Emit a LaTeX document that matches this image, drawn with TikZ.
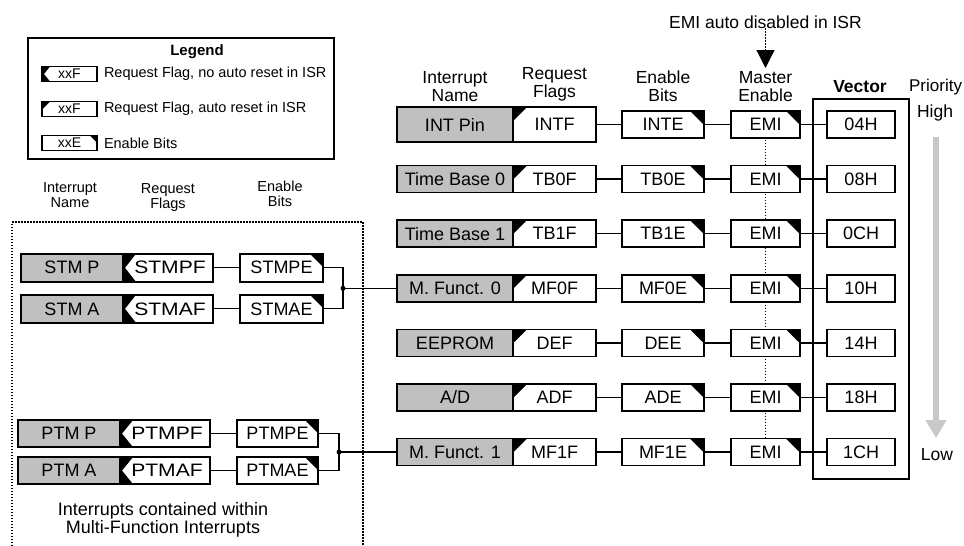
\documentclass[tikz,border=0pt]{standalone}
\usepackage{fontspec}
\usepackage{graphicx}
\setmainfont{Liberation Sans}
\usetikzlibrary{arrows.meta}
\definecolor{boxgray}{RGB}{192,192,192}
\definecolor{arrowgray}{RGB}{200,200,200}
\newcommand{\widetxt}[1]{\scalebox{1.17}[1]{#1}}
\begin{document}
\begin{tikzpicture}[x=1pt,y=-1pt,line width=1.5pt,
  every node/.style={inner sep=0pt,outer sep=0pt},
  lbl/.style={font=\fontsize{18}{18}\selectfont},
  box/.style={draw,fill=white,minimum height=27pt,lbl},
  namebox/.style={box,fill=boxgray,minimum width=116pt},
  flagA/.style={box,minimum width=83pt,path picture={\fill[black] (path picture bounding box.north west) -- ++(#1,0pt) -- ++(-#1,-#1) -- cycle;}},
  flagB/.style={box,minimum width=90pt,path picture={\fill[black] (path picture bounding box.north west) -- ++(#1,0pt) -- ([xshift=2pt]path picture bounding box.west) -- ([xshift=#1]path picture bounding box.south west) -- (path picture bounding box.south west) -- cycle;}},
  enbox/.style={box,minimum width=82pt,path picture={\fill[black] (path picture bounding box.north east) -- ++(-#1,0pt) -- ++(#1,-#1) -- cycle;}},
  emibox/.style={enbox=14pt,minimum width=69pt},
  vecbox/.style={box,minimum width=68pt},
  hdr/.style={align=center,font=\fontsize{17.5}{18}\selectfont},
  shdr/.style={align=center,font=\fontsize{14.5}{15}\selectfont},
  dotline/.style={line width=1.2pt,dash pattern=on 1.5pt off 1.5pt},
  conn/.style={line width=1.3pt}
]
\useasboundingbox (0,0) rectangle (964,546);

% ---------- Legend ----------
\draw[line width=1.3pt] (28,38) rectangle (334,159);
\node[font=\bfseries\fontsize{15}{15}\selectfont] (legt) at (197,52) {Legend};
\node[flagB=8pt,line width=1.3pt,minimum width=55pt,minimum height=15pt,font=\fontsize{14}{14}\selectfont] (lg1) at (69.5,74) {xxF};
\node[flagA=8pt,line width=1.3pt,minimum width=55pt,minimum height=15pt,font=\fontsize{14}{14}\selectfont] (lg2) at (69.5,109) {xxF};
\node[enbox=7pt,line width=1.3pt,minimum width=55pt,minimum height=15pt,font=\fontsize{14}{14}\selectfont] (lg3) at (69.5,143) {xxE};
\node[anchor=west,font=\fontsize{14.5}{15}\selectfont] (lt1) at (104,74) {Request Flag, no auto reset in ISR};
\node[anchor=west,font=\fontsize{14.5}{15}\selectfont] (lt2) at (104,109) {Request Flag, auto reset in ISR};
\node[anchor=west,font=\fontsize{14.5}{15}\selectfont] (lt3) at (104,143) {Enable Bits};

% ---------- Left (multi-function) ----------
\node[shdr] (lh1) at (70,195) {Interrupt\\Name};
\node[shdr] (lh2) at (168,198) {Request\\Flags};
\node[shdr] (lh3) at (280,194) {Enable\\Bits};
\draw[dotline] (12,546) -- (12,222) -- (363,222) -- (363,546);

\node[namebox,minimum width=102pt,minimum height=28pt] (stmp) at (72,267.8) {STM P};
\node[flagB=13pt,minimum height=28pt] (stmpf) at (168,267.8) {\hspace*{4pt}\widetxt{STMPF}};
\node[enbox=13pt,minimum width=83pt,minimum height=28pt] (stmpe) at (281.5,267.8) {STMPE};
\node[namebox,minimum width=102pt,minimum height=28pt] (stma) at (72,308.8) {STM A};
\node[flagB=13pt,minimum height=28pt] (stmaf) at (168,308.8) {\hspace*{4pt}\widetxt{STMAF}};
\node[enbox=13pt,minimum width=83pt,minimum height=28pt] (stmae) at (281.5,308.8) {STMAE};
\coordinate (j1) at (343,288.3);

\node[namebox,minimum width=102pt] (ptmp) at (69,433.6) {PTM P};
\node[flagB=13pt] (ptmpf) at (165,433.6) {\hspace*{4pt}\widetxt{PTMPF}};
\node[enbox=13pt,minimum width=81pt] (ptmpe) at (277.5,433.6) {PTMPE};
\node[namebox,minimum width=102pt] (ptma) at (69,470.6) {PTM A};
\node[flagB=13pt] (ptmaf) at (165,470.6) {\hspace*{4pt}\widetxt{PTMAF}};
\node[enbox=13pt,minimum width=81pt] (ptmae) at (277.5,470.6) {PTMAE};
\coordinate (j2) at (339,452.1);

\node[align=center,font=\fontsize{18}{18}\selectfont] (mfnote) at (163,520) {Interrupts contained within\\Multi-Function Interrupts};

% ---------- Main headers ----------
\node[hdr] (h1) at (455,87) {Interrupt\\Name};
\node[hdr] (h2) at (554.5,84) {Request\\Flags};
\node[hdr] (h3) at (663,86.5) {Enable\\Bits};
\node[hdr] (h4) at (765.5,86.5) {Master\\Enable};
\node[font=\bfseries\fontsize{17.5}{18}\selectfont] (h5) at (860,87) {Vector};
\node[font=\fontsize{17}{18}\selectfont,anchor=east] (h6) at (962,87) {Priority};
\node[hdr] (hi) at (935,113) {High};
\node[hdr] (lo) at (937,455) {Low};
\node[hdr] (emitxt) at (765.5,22) {EMI auto disabled in ISR};
\coordinate (emitip) at (765.5,68);

% vector frame
\draw (813,99) rectangle (909,479);

% EMI dotted spine (behind boxes)
\draw[dotline] (765.5,124.5) -- (765.5,452.1);

% ---------- Main rows ----------
\node[namebox,minimum height=35pt] (n1) at (455,124.5) {INT Pin};
\node[flagA=14pt,minimum height=35pt] (f1) at (554.5,124.5) {INTF};
\node[enbox=14pt] (e1) at (663,124.5) {INTE};
\node[emibox] (m1) at (765.5,124.5) {EMI};
\node[vecbox] (v1) at (861,124.5) {04H};

\node[namebox] (n2) at (455,179.1) {Time Base 0};
\node[flagA=14pt] (f2) at (554.5,179.1) {TB0F};
\node[enbox=14pt] (e2) at (663,179.1) {TB0E};
\node[emibox] (m2) at (765.5,179.1) {EMI};
\node[vecbox] (v2) at (861,179.1) {08H};

\node[namebox] (n3) at (455,233.7) {Time Base 1};
\node[flagA=14pt] (f3) at (554.5,233.7) {TB1F};
\node[enbox=14pt] (e3) at (663,233.7) {TB1E};
\node[emibox] (m3) at (765.5,233.7) {EMI};
\node[vecbox] (v3) at (861,233.7) {0CH};

\node[namebox] (n4) at (455,288.3) {M. Funct. 0};
\node[flagA=14pt] (f4) at (554.5,288.3) {MF0F};
\node[enbox=14pt] (e4) at (663,288.3) {MF0E};
\node[emibox] (m4) at (765.5,288.3) {EMI};
\node[vecbox] (v4) at (861,288.3) {10H};

\node[namebox] (n5) at (455,342.9) {EEPROM};
\node[flagA=14pt] (f5) at (554.5,342.9) {DEF};
\node[enbox=14pt] (e5) at (663,342.9) {DEE};
\node[emibox] (m5) at (765.5,342.9) {EMI};
\node[vecbox] (v5) at (861,342.9) {14H};

\node[namebox] (n6) at (455,397.5) {A/D};
\node[flagA=14pt] (f6) at (554.5,397.5) {ADF};
\node[enbox=14pt] (e6) at (663,397.5) {ADE};
\node[emibox] (m6) at (765.5,397.5) {EMI};
\node[vecbox] (v6) at (861,397.5) {18H};

\node[namebox] (n7) at (455,452.1) {M. Funct. 1};
\node[flagA=14pt] (f7) at (554.5,452.1) {MF1F};
\node[enbox=14pt] (e7) at (663,452.1) {MF1E};
\node[emibox] (m7) at (765.5,452.1) {EMI};
\node[vecbox] (v7) at (861,452.1) {1CH};

\foreach \i in {1,...,7}{
  \draw[conn] (f\i) -- (e\i);
  \draw[conn] (e\i) -- (m\i);
  \draw[conn] (m\i) -- (v\i);
}

% ---------- Left connectors ----------
\draw[conn] (stmpf) -- (stmpe);
\draw[conn] (stmaf) -- (stmae);
\draw[conn] (stmpe.east) -| (j1) |- (stmae.east);
\draw[conn] (j1) -- (n4.west);
\fill (j1) circle (2.5pt);
\draw[conn] (ptmpf) -- (ptmpe);
\draw[conn] (ptmaf) -- (ptmae);
\draw[conn] (ptmpe.east) -| (j2) |- (ptmae.east);
\draw[conn] (j2) -- (n7.west);
\fill (j2) circle (2.5pt);

% ---------- EMI auto disabled arrow ----------
\draw[dotline,-{Triangle[width=18pt,length=18pt]}] (emitxt.south) -- (emitip);

% ---------- Priority arrow ----------
\coordinate (pa) at (936,137);
\coordinate (pb) at (936,438);
\draw[arrowgray,line width=6pt,-{Triangle[width=20pt,length=18pt]}] (pa) -- (pb);
\end{tikzpicture}
\end{document}
